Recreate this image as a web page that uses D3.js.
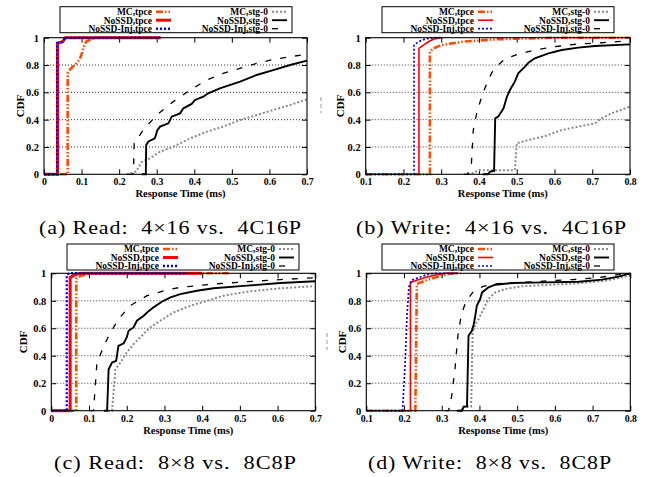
<!DOCTYPE html>
<html>
<head>
<meta charset="utf-8">
<script src="https://cdn.jsdelivr.net/npm/d3@7"></script>
<style>
  body { margin: 0; background: #fff; }
  svg text { font-family: "Liberation Serif", "Times New Roman", serif; }
  .caption { white-space: pre; }
</style>
</head>
<body>
<svg width="647" height="477"></svg>
<script>
// names, in plot order (legend: left column tpce, right column stg-0)
var seriesNames = ["MC,tpce", "NoSSD,tpce", "NoSSD-Inj,tpce", "MC,stg-0", "NoSSD,stg-0", "NoSSD-Inj,stg-0"];
var xTicksRead = [0, 0.1, 0.2, 0.3, 0.4, 0.5, 0.6, 0.7];
var xTicksWrite = [0.1, 0.2, 0.3, 0.4, 0.5, 0.6, 0.7, 0.8];
var yTicks = [0, 0.2, 0.4, 0.6, 0.8, 1];
var gridTicks = [0.2, 0.4, 0.6, 0.8];
var captions = ["(a) Read:  4\u00d716 vs.  4C16P", "(b) Write:  4\u00d716 vs.  4C16P",
                "(c) Read:  8\u00d78 vs.  8C8P", "(d) Write:  8\u00d78 vs.  8C8P"];

// (a) read 4x16 vs 4C16P  -- [response time ms, cdf]
var a_mcTpce  = [[0,0],[0.063,0],[0.063,0.74],[0.07,0.77],[0.085,0.81],[0.095,0.84],[0.1,0.88],[0.105,0.93],[0.112,0.97],[0.125,0.99],[0.14,1],[0.31,1]];
var a_noTpce  = [[0,0],[0.036,0],[0.036,0.96],[0.05,0.97],[0.057,1],[0.31,1]];
var a_injTpce = [[0,0],[0.035,0],[0.035,0.96],[0.05,0.97],[0.056,1],[0.31,1]];
var a_mcStg   = [[0.22,0],[0.245,0.02],[0.26,0.09],[0.282,0.117],[0.309,0.166],[0.344,0.202],[0.389,0.263],[0.433,0.312],[0.477,0.349],[0.522,0.398],[0.566,0.434],[0.61,0.471],[0.655,0.507],[0.7,0.549]];
var a_noStg   = [[0.26,0],[0.271,0],[0.272,0.215],[0.278,0.24],[0.295,0.263],[0.302,0.324],[0.309,0.349],[0.331,0.373],[0.34,0.422],[0.362,0.446],[0.371,0.483],[0.393,0.515],[0.402,0.544],[0.424,0.568],[0.437,0.593],[0.468,0.629],[0.522,0.678],[0.566,0.727],[0.61,0.763],[0.655,0.8],[0.7,0.832]];
var a_injStg  = [[0.225,0],[0.238,0],[0.24,0.227],[0.264,0.324],[0.3,0.434],[0.344,0.532],[0.389,0.617],[0.433,0.69],[0.477,0.739],[0.522,0.776],[0.566,0.812],[0.61,0.841],[0.7,0.88]];

// (b) write 4x16 vs 4C16P
var b_mcTpce  = [[0.1,0],[0.27,0],[0.27,0.898],[0.279,0.922],[0.301,0.946],[0.354,0.97],[0.442,0.988],[0.53,0.995],[0.6,1],[0.8,1]];
var b_noTpce  = [[0.1,0],[0.241,0],[0.241,0.922],[0.253,0.946],[0.266,0.97],[0.279,0.988],[0.297,1],[0.305,1]];
var b_injTpce = [[0.1,0],[0.228,0],[0.228,0.946],[0.239,0.97],[0.257,0.99],[0.279,1],[0.3,1]];
var b_mcStg   = [[0.37,0],[0.385,0.01],[0.4,0.03],[0.495,0.03],[0.5,0.227],[0.531,0.251],[0.575,0.28],[0.619,0.324],[0.663,0.349],[0.707,0.373],[0.725,0.41],[0.751,0.446],[0.8,0.495]];
var b_noStg   = [[0.41,0],[0.423,0],[0.43,0.02],[0.44,0.025],[0.443,0.41],[0.451,0.422],[0.465,0.483],[0.474,0.568],[0.482,0.617],[0.495,0.678],[0.504,0.739],[0.522,0.788],[0.531,0.817],[0.548,0.849],[0.584,0.885],[0.619,0.91],[0.663,0.927],[0.707,0.939],[0.8,0.951]];
var b_injStg  = [[0.36,0],[0.37,0],[0.38,0.08],[0.385,0.324],[0.394,0.446],[0.407,0.568],[0.42,0.66],[0.434,0.745],[0.451,0.8],[0.469,0.845],[0.504,0.88],[0.548,0.91],[0.601,0.934],[0.663,0.954],[0.725,0.963],[0.8,0.978]];

// (c) read 8x8 vs 8C8P
var c_mcTpce  = [[0,0],[0.066,0],[0.066,0.96],[0.077,0.98],[0.095,0.995],[0.12,1],[0.47,1]];
var c_noTpce  = [[0,0],[0.05,0],[0.05,0.97],[0.059,0.983],[0.068,0.995],[0.08,1],[0.4,1]];
var c_injTpce = [[0,0],[0.041,0],[0.041,0.99],[0.05,1],[0.36,1]];
var c_mcStg   = [[0.15,0],[0.161,0],[0.17,0.3],[0.183,0.35],[0.2,0.423],[0.218,0.484],[0.24,0.545],[0.262,0.606],[0.289,0.655],[0.324,0.715],[0.369,0.764],[0.413,0.8],[0.457,0.837],[0.519,0.866],[0.607,0.891],[0.691,0.905]];
var c_noStg   = [[0.14,0],[0.148,0],[0.152,0.302],[0.161,0.35],[0.172,0.363],[0.178,0.472],[0.192,0.491],[0.2,0.533],[0.205,0.582],[0.218,0.606],[0.227,0.655],[0.245,0.691],[0.254,0.715],[0.271,0.752],[0.293,0.793],[0.316,0.825],[0.342,0.849],[0.386,0.873],[0.43,0.891],[0.519,0.91],[0.607,0.929],[0.7,0.942]];
var c_injStg  = [[0.1,0],[0.112,0],[0.121,0.35],[0.134,0.435],[0.152,0.545],[0.178,0.667],[0.209,0.764],[0.254,0.837],[0.298,0.873],[0.342,0.898],[0.43,0.922],[0.519,0.939],[0.607,0.954],[0.7,0.968]];

// (d) write 8x8 vs 8C8P
var d_mcTpce  = [[0.1,0],[0.23,0],[0.234,0.922],[0.256,0.946],[0.283,0.97],[0.318,0.995],[0.34,1],[0.35,1]];
var d_noTpce  = [[0.1,0],[0.217,0],[0.217,0.934],[0.23,0.946],[0.256,0.97],[0.283,0.988],[0.31,1],[0.34,1]];
var d_injTpce = [[0.1,0],[0.196,0],[0.203,0.35],[0.208,0.7],[0.213,0.9],[0.22,0.95],[0.24,0.97],[0.26,0.99],[0.28,1],[0.34,1]];
var d_mcStg   = [[0.35,0],[0.36,0.03],[0.378,0.03],[0.382,0.569],[0.389,0.63],[0.398,0.667],[0.411,0.74],[0.424,0.813],[0.442,0.861],[0.469,0.886],[0.512,0.905],[0.575,0.915],[0.663,0.927],[0.734,0.946],[0.8,0.983]];
var d_noStg   = [[0.34,0],[0.354,0],[0.358,0.03],[0.367,0.03],[0.371,0.545],[0.38,0.582],[0.385,0.63],[0.389,0.691],[0.393,0.764],[0.402,0.813],[0.407,0.861],[0.424,0.898],[0.442,0.917],[0.486,0.929],[0.575,0.934],[0.663,0.939],[0.725,0.954],[0.769,0.976],[0.8,1]];
var d_injStg  = [[0.31,0],[0.318,0],[0.326,0.1],[0.335,0.3],[0.343,0.55],[0.352,0.7],[0.365,0.8],[0.385,0.87],[0.41,0.905],[0.45,0.925],[0.55,0.94],[0.65,0.955],[0.72,0.97],[0.78,0.995],[0.8,1]];

var svg = d3.select("svg");
svg.append("rect").attr("width", 647).attr("height", 477).attr("fill", "#fff");

// layout of the four panels
var panels = [
  {series: [a_mcTpce, a_noTpce, a_injTpce, a_mcStg, a_noStg, a_injStg], xDomain: [0, 0.7], xTicks: xTicksRead,
   left: 44, right: 307, top: 37.7, bottom: 174.3, legX: 60, legY: 6.7, capX0: 39, capX1: 302, capY: 234, cdfX: 20, thin: false},
  {series: [b_mcTpce, b_noTpce, b_injTpce, b_mcStg, b_noStg, b_injStg], xDomain: [0.1, 0.8], xTicks: xTicksWrite,
   left: 365.7, right: 630, top: 37.7, bottom: 174.3, legX: 382, legY: 6.7, capX0: 356, capX1: 627, capY: 234, cdfX: 340, thin: true},
  {series: [c_mcTpce, c_noTpce, c_injTpce, c_mcStg, c_noStg, c_injStg], xDomain: [0, 0.7], xTicks: xTicksRead,
   left: 51.3, right: 315.3, top: 273.3, bottom: 410.7, legX: 67, legY: 244, capX0: 54, capX1: 297, capY: 469, cdfX: 23, thin: false},
  {series: [d_mcTpce, d_noTpce, d_injTpce, d_mcStg, d_noStg, d_injStg], xDomain: [0.1, 0.8], xTicks: xTicksWrite,
   left: 366.3, right: 630.3, top: 273.3, bottom: 410.7, legX: 382, legY: 244, capX0: 368, capX1: 612, capY: 469, cdfX: 341.7, thin: true}
];

function styleOf(i, thin) {
  var s = [
    {color: "#ff4a00", width: 2.6, dash: "7,2,1.5,2,1.5,2"},
    {color: "#ff0000", width: thin ? 1.6 : 3, dash: null},
    {color: "#0000ff", width: thin ? 1.7 : 2.4, dash: "2,2"},
    {color: "#8a8a8a", width: 2, dash: "2,2"},
    {color: "#000000", width: 1.9, dash: null},
    {color: "#000000", width: 1.3, dash: "6,9"}
  ];
  return s[i];
}

panels.forEach(function(p, pi) {
  var x = d3.scaleLinear().domain(p.xDomain).range([p.left, p.right]),
      y = d3.scaleLinear().domain([0, 1]).range([p.bottom, p.top]);
  var g = svg.append("g");

  // dotted grid
  g.selectAll(".grid")
    .data(gridTicks)
    .enter().append("line")
      .attr("x1", p.left).attr("x2", p.right)
      .attr("y1", function(d) { return y(d); })
      .attr("y2", function(d) { return y(d); })
      .attr("stroke", "#333").attr("stroke-width", 1)
      .attr("stroke-dasharray", "1,2");

  // axes with inward ticks, mirrored on top and right
  var fontAttrs = function(sel) {
    sel.attr("font-family", "Liberation Serif, serif").attr("font-size", 10)
       .attr("font-weight", "bold");
  };
  var gx = g.append("g").attr("transform", "translate(0," + p.bottom + ")")
    .call(d3.axisBottom(x).tickValues(p.xTicks).tickSizeInner(-5).tickSizeOuter(0).tickPadding(4).tickFormat(String));
  gx.call(fontAttrs); gx.attr("font-size", 9.8); gx.select(".domain").remove();
  var gt = g.append("g").attr("transform", "translate(0," + p.top + ")")
    .call(d3.axisTop(x).tickValues(p.xTicks).tickSizeInner(-5).tickSizeOuter(0).tickFormat(""));
  gt.select(".domain").remove();
  var gy = g.append("g").attr("transform", "translate(" + p.left + ",0)")
    .call(d3.axisLeft(y).tickValues(yTicks).tickSizeInner(-5).tickSizeOuter(0).tickPadding(5).tickFormat(String));
  gy.call(fontAttrs); gy.attr("font-size", 10.5); gy.select(".domain").remove();
  var gr = g.append("g").attr("transform", "translate(" + p.right + ",0)")
    .call(d3.axisRight(y).tickValues(yTicks).tickSizeInner(-5).tickSizeOuter(0).tickFormat(""));
  gr.select(".domain").remove();

  // curves
  var clipId = "clip" + pi;
  svg.append("clipPath").attr("id", clipId).append("rect")
    .attr("x", p.left - 2).attr("y", p.top - 2)
    .attr("width", p.right - p.left + 4).attr("height", p.bottom - p.top + 4);
  var line = d3.line().x(function(d) { return x(d[0]); }).y(function(d) { return y(d[1]); });
  var lines = g.append("g").attr("clip-path", "url(#" + clipId + ")");
  p.series.forEach(function(s, i) {
    var st = styleOf(i, p.thin);
    lines.append("path").datum(s)
      .attr("d", line)
      .attr("fill", "none")
      .attr("stroke", st.color)
      .attr("stroke-width", st.width)
      .attr("stroke-dasharray", st.dash);
  });

  // frame
  g.append("rect")
    .attr("x", p.left).attr("y", p.top)
    .attr("width", p.right - p.left).attr("height", p.bottom - p.top)
    .attr("fill", "none").attr("stroke", "#000").attr("stroke-width", 1.1);

  // axis titles
  g.append("text")
    .attr("x", (p.left + p.right) / 2 + 5).attr("y", p.bottom + 23)
    .attr("text-anchor", "middle").attr("font-size", 10.5).attr("font-weight", "bold")
    .text("Response Time (ms)");
  g.append("text")
    .attr("transform", "translate(" + p.cdfX + "," + ((p.top + p.bottom) / 2) + ") rotate(-90)")
    .attr("text-anchor", "middle").attr("dy", "0.35em")
    .attr("font-size", 11).attr("font-weight", "bold")
    .text("CDF");

  // legend
  var leg = g.append("g").attr("transform", "translate(" + p.legX + "," + p.legY + ")");
  leg.append("rect").attr("width", 232).attr("height", 26)
    .attr("fill", "#fff").attr("stroke", "#000").attr("stroke-width", 1);
  var rowY = [5, 13.5, 22];
  seriesNames.forEach(function(name, i) {
    var st = styleOf(i, p.thin);
    var col = i < 3 ? 0 : 1, row = i % 3;
    var textRight = col === 0 ? 92 : 208;
    leg.append("text")
      .attr("x", textRight).attr("y", rowY[row]).attr("dy", "0.35em")
      .attr("text-anchor", "end").attr("font-size", 9.5).attr("font-weight", "bold")
      .text(name);
    leg.append("line")
      .attr("x1", textRight + 4).attr("x2", textRight + 19)
      .attr("y1", rowY[row]).attr("y2", rowY[row])
      .attr("stroke", st.color).attr("stroke-width", st.width)
      .attr("stroke-dasharray", st.dash);
  });

  // caption
  svg.append("text")
    .attr("class", "caption")
    .attr("x", p.capX0).attr("y", p.capY)
    .attr("font-size", 19).attr("letter-spacing", 0.8)
    .attr("textLength", p.capX1 - p.capX0).attr("lengthAdjust", "spacingAndGlyphs")
    .text(captions[pi]);
});

// faint crop leftovers at the panel seams
[[321, 97, 113], [327, 333, 350]].forEach(function(m) {
  svg.append("line").attr("x1", m[0]).attr("x2", m[0]).attr("y1", m[1]).attr("y2", m[2])
    .attr("stroke", "#bbb").attr("stroke-width", 1.5).attr("stroke-dasharray", "4,3");
});
</script>
</body>
</html>
